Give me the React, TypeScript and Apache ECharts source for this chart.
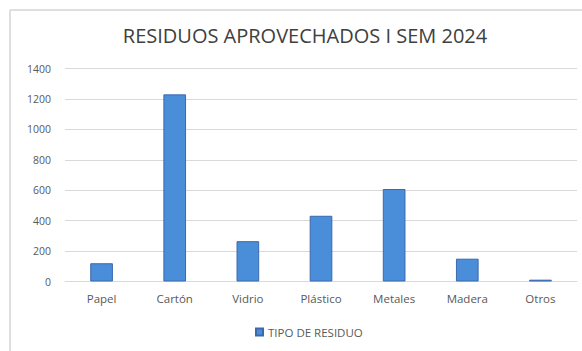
import React, { useEffect, useRef } from "react";
import * as echarts from "echarts";

const categories = ["Papel", "Cartón", "Vidrio", "Plástico", "Metales", "Madera", "Otros"];
const values = [120, 1230, 265, 432, 608, 150, 12];
const seriesName = "TIPO DE RESIDUO";
const titleText = "RESIDUOS APROVECHADOS I SEM 2024";

export default function App() {
  const ref = useRef<HTMLDivElement>(null);

  useEffect(() => {
    if (!ref.current) return;
    const chart = echarts.init(ref.current, null, { renderer: "svg" });
    const font = "'Open Sans', 'Liberation Sans', sans-serif";
    const frame = { stroke: "#d4d4d4", lineWidth: 1.5 };
    chart.setOption({
      animation: false,
      backgroundColor: "#ffffff",
      textStyle: { fontFamily: font },
      graphic: [
        // outer frame: top and left edges (the rest lies beyond the canvas)
        { type: "line", shape: { x1: 10, y1: 10, x2: 582, y2: 10 }, style: frame, silent: true },
        { type: "line", shape: { x1: 10, y1: 10, x2: 10, y2: 351 }, style: frame, silent: true },
        {
          type: "text",
          x: 305,
          y: 35,
          silent: true,
          style: {
            text: titleText,
            fill: "#404040",
            font: `20px ${font}`,
            textAlign: "center",
            textVerticalAlign: "middle",
          },
        },
      ],
      legend: {
        data: [seriesName],
        top: 321,
        left: 250,
        itemWidth: 7,
        itemHeight: 7,
        itemGap: 5,
        icon: "rect",
        textStyle: { fontSize: 11.5, color: "#595959", fontFamily: font },
      },
      grid: { left: 65, right: 5, top: 68.5, bottom: 69.5, containLabel: false },
      xAxis: {
        type: "category",
        data: categories,
        axisTick: { show: false },
        axisLine: { lineStyle: { color: "#d9d9d9" } },
        axisLabel: { fontSize: 11.5, color: "#595959", margin: 11 },
      },
      yAxis: {
        type: "value",
        min: 0,
        max: 1400,
        interval: 200,
        axisLabel: { fontSize: 10.5, color: "#595959", margin: 14, formatter: (v: number) => String(v) },
        splitLine: { lineStyle: { color: "#d9d9d9" } },
        axisLine: { show: false },
        axisTick: { show: false },
      },
      series: [
        {
          name: seriesName,
          type: "bar",
          data: values,
          barWidth: "31%",
          itemStyle: { color: "#4A8DD8", borderColor: "#3A6AAE", borderWidth: 1 },
        },
      ],
    });
    return () => chart.dispose();
  }, []);

  return (
    <div
      ref={ref}
      style={{ position: "fixed", left: 0, top: 0, width: 582, height: 351, overflow: "hidden" }}
    />
  );
}
